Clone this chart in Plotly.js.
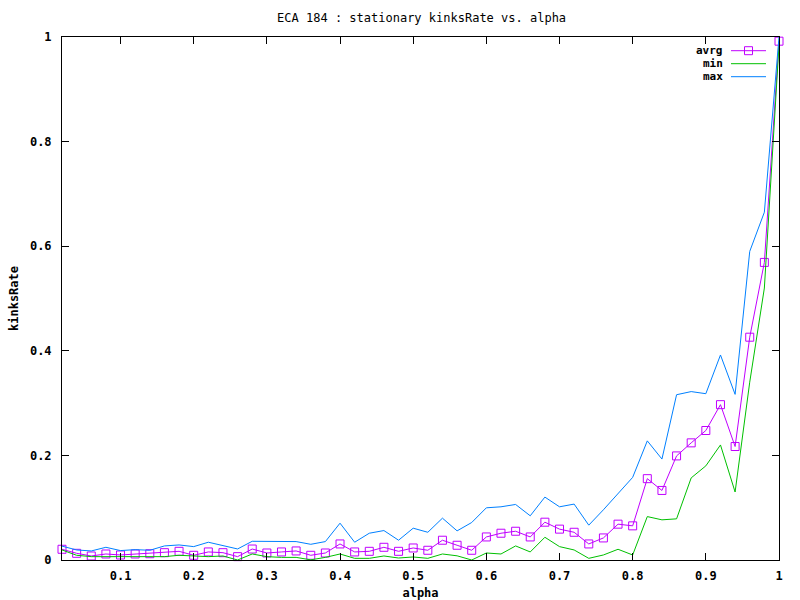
<!DOCTYPE html>
<html>
<head>
<meta charset="utf-8">
<script src="https://cdn.plot.ly/plotly-3.0.1.min.js"></script>
<style>html,body{margin:0;padding:0;background:#fff;}#chart{width:800px;height:600px;}</style>
</head>
<body>
<div id="chart"></div>
<script>
const alpha = [0.02,0.04,0.06,0.08,0.10,0.12,0.14,0.16,0.18,0.20,
               0.22,0.24,0.26,0.28,0.30,0.32,0.34,0.36,0.38,0.40,
               0.42,0.44,0.46,0.48,0.50,0.52,0.54,0.56,0.58,0.60,
               0.62,0.64,0.66,0.68,0.70,0.72,0.74,0.76,0.78,0.80,
               0.82,0.84,0.86,0.88,0.90,0.92,0.94,0.96,0.98,1.00];
const avrg = [0.0205,0.0128,0.0077,0.0115,0.0096,0.0115,0.012,0.014,0.0166,0.009,
              0.0154,0.014,0.0064,0.021,0.0134,0.0154,0.0173,0.009,0.0134,0.0307,
              0.0154,0.0166,0.0243,0.0166,0.023,0.0186,0.0378,0.0282,0.0186,0.0441,
              0.0512,0.055,0.0441,0.0723,0.059,0.053,0.0307,0.0422,0.0685,0.0653,
              0.1555,0.133,0.199,0.224,0.2476,0.297,0.217,0.426,0.569,0.992];
const minv = [0.0192,0.009,0.0064,0.0064,0.0064,0.0064,0.0064,0.0064,0.009,0.0077,
              0.0064,0.0077,0.0,0.0115,0.0064,0.005,0.005,0.0003,0.005,0.0115,
              0.0032,0.0032,0.0077,0.0038,0.0058,0.0032,0.0115,0.008,0.0,0.0134,
              0.0115,0.0269,0.0154,0.0435,0.0256,0.0192,0.0032,0.0096,0.0205,0.0096,
              0.083,0.0768,0.0787,0.157,0.18,0.22,0.13,0.34,0.52,0.985];
const maxv = [0.0265,0.0192,0.0173,0.0243,0.018,0.0198,0.0186,0.0269,0.0288,0.0256,
              0.034,0.0282,0.0211,0.0358,0.0352,0.0352,0.0352,0.03,0.0352,0.0704,
              0.034,0.0512,0.0563,0.0378,0.0608,0.053,0.08,0.0557,0.0717,0.0998,
              0.1017,0.1062,0.0845,0.1203,0.1017,0.1069,0.0666,0.096,0.128,0.158,
              0.2278,0.193,0.316,0.322,0.318,0.392,0.3167,0.59,0.665,1.0];
const seriesNames = ['avrg','min','max'];
const xTicks = [0.1,0.2,0.3,0.4,0.5,0.6,0.7,0.8,0.9,1];
const yTicks = [0,0.2,0.4,0.6,0.8,1];

const colAvg = '#c000ff', colMin = '#00c000', colMax = '#0080ff';
const mono = 'DejaVu Sans Mono, Liberation Mono, monospace';

const traces = [
  {x: alpha, y: avrg, name: seriesNames[0], mode: 'lines+markers', type: 'scatter', cliponaxis: false,
   line: {color: colAvg, width: 1},
   marker: {symbol: 'square-open', size: 8, color: colAvg, line: {width: 1, color: colAvg}}},
  {x: alpha, y: minv, name: seriesNames[1], mode: 'lines', type: 'scatter',
   line: {color: colMin, width: 1}},
  {x: alpha, y: maxv, name: seriesNames[2], mode: 'lines', type: 'scatter',
   line: {color: colMax, width: 1}}
];

// custom gnuplot-style key (text on the left, sample on the right)
const L = 62, R = 779, T = 37, B = 560;
const px = v => (v - L) / (R - L);
const py = v => (B - v) / (B - T);
const keyY = [50.7, 63.7, 76.7];
const keyCols = [colAvg, colMin, colMax];
const annotations = [];
const shapes = [];
for (let i = 0; i < 3; i++) {
  annotations.push({xref: 'paper', yref: 'paper', x: px(724), y: py(keyY[i]),
    xanchor: 'right', yanchor: 'middle', showarrow: false, text: seriesNames[i],
    borderpad: 0, font: {family: mono, size: 11, color: '#000', weight: 'bold'}});
  shapes.push({type: 'line', xref: 'paper', yref: 'paper', x0: px(731), x1: px(766),
    y0: py(keyY[i]), y1: py(keyY[i]), line: {color: keyCols[i], width: 1}});
}
shapes.push({type: 'rect', xref: 'paper', yref: 'paper', x0: px(744.5), x1: px(752.5),
  y0: py(keyY[0] + 4), y1: py(keyY[0] - 4), line: {color: colAvg, width: 1}, fillcolor: 'rgba(0,0,0,0)'});

const layout = {
  width: 800, height: 600,
  margin: {l: L, r: 800 - R, t: T, b: 600 - B, pad: 0},
  paper_bgcolor: '#fff', plot_bgcolor: '#fff',
  showlegend: false,
  title: {text: 'ECA 184 : stationary kinksRate vs. alpha', x: 0.527, xanchor: 'center', y: 0.97, yanchor: 'middle',
          font: {family: mono, size: 12, color: '#000'}},
  xaxis: {range: [0.02, 1], tickvals: xTicks, ticktext: xTicks.map(String), ticks: 'inside', ticklen: 7, tickwidth: 1, tickcolor: '#000',
          showline: true, linecolor: '#000', linewidth: 1, mirror: 'ticks', showgrid: false, zeroline: false,
          tickfont: {family: mono, size: 12, color: '#000', weight: 'bold'}, ticklabelstandoff: 5,
          title: {text: 'alpha', font: {family: mono, size: 12, color: '#000', weight: 'bold'}, standoff: 8}},
  yaxis: {range: [0, 1], tickvals: yTicks, ticktext: yTicks.map(String), ticks: 'inside', ticklen: 7, tickwidth: 1, tickcolor: '#000',
          showline: true, linecolor: '#000', linewidth: 1, mirror: 'ticks', showgrid: false, zeroline: false,
          tickfont: {family: mono, size: 12, color: '#000', weight: 'bold'}, ticklabelstandoff: 7,
          title: {text: 'kinksRate', font: {family: mono, size: 12, color: '#000', weight: 'bold'}, standoff: 8}},
  annotations: annotations,
  shapes: shapes
};

Plotly.newPlot('chart', traces, layout, {displayModeBar: false, staticPlot: true});
</script>
</body>
</html>
